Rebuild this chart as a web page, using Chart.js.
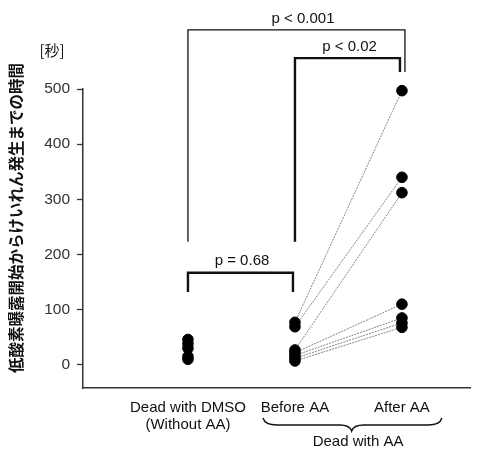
<!DOCTYPE html>
<html>
<head>
<meta charset="utf-8">
<script src="https://cdn.jsdelivr.net/npm/chart.js@4/dist/chart.umd.min.js"></script>
<style>
  html, body { margin: 0; padding: 0; background: #fff; }
  canvas { display: block; }
</style>
</head>
<body>
<canvas id="chartCanvas" width="501" height="455"></canvas>
<script>
/* ─── Data ─── */
const groupLabels = [['Dead with DMSO', '(Without AA)'], ['Before AA'], ['After AA']];
const dmsoValues  = [46, 38, 30, 15, 10];
const beforeAA    = [77, 69, 27, 22, 17, 12, 7];
const afterAA     = [497, 340, 312, 110, 85, 76, 68];
const yTicks      = [0, 100, 200, 300, 400, 500];

const yTitle   = '低酸素曝露開始からけいれん発生までの時間';
const yUnit    = '[秒]';
const braceLabel = 'Dead with AA';

/* significance brackets: group indices, heights in seconds */
const bracketFrom  = [0, 1, 0];
const bracketTo    = [2, 2, 1];
const bracketTop   = [607, 556, 167];
const bracketLeftEnd  = [223, 223, 132];
const bracketRightEnd = [531, 531, 132];
const bracketText  = ['p < 0.001', 'p < 0.02', 'p = 0.68'];
const bracketTextX = [1.075, 1.51, 0.505];
const bracketWidth = [1.3, 2.4, 2.4];

const INK = '#111';
const LATIN = "'Liberation Sans', Arial, sans-serif";

/* ─── Datasets ─── */
const pointData = [
  ...dmsoValues.map(v => ({ x: 0, y: v })),
  ...beforeAA.map(v => ({ x: 1, y: v })),
  ...afterAA.map(v => ({ x: 2, y: v }))
];

const pairLines = beforeAA.map((b, i) => ({
  type: 'line',
  data: [{ x: 1, y: b }, { x: 2, y: afterAA[i] }],
  borderColor: '#666',
  borderWidth: 0.8,
  borderDash: [2, 1],
  pointRadius: 0,
  clip: false,
  order: 1
}));

/* ─── Overlay: brackets, brace, titles ─── */
const overlay = {
  id: 'overlay',
  afterDraw(chart) {
    const { ctx, scales: { x, y } } = chart;
    ctx.save();
    ctx.strokeStyle = INK;
    ctx.fillStyle = INK;

    // brackets
    bracketText.forEach((txt, i) => {
      const x1 = x.getPixelForValue(bracketFrom[i]);
      const x2 = x.getPixelForValue(bracketTo[i]) + (i === 0 ? 3 : -2);
      const yt = y.getPixelForValue(bracketTop[i]);
      ctx.lineWidth = bracketWidth[i];
      ctx.beginPath();
      ctx.moveTo(x1, y.getPixelForValue(bracketLeftEnd[i]));
      ctx.lineTo(x1, yt);
      ctx.lineTo(x2, yt);
      ctx.lineTo(x2, y.getPixelForValue(bracketRightEnd[i]));
      ctx.stroke();
      ctx.font = `15px ${LATIN}`;
      ctx.textAlign = 'center';
      ctx.textBaseline = 'bottom';
      ctx.fillText(txt, x.getPixelForValue(bracketTextX[i]), yt - 4);
    });

    // curly brace under the AA groups
    const bx1 = x.getPixelForValue(1) - 32;
    const bx2 = x.getPixelForValue(2) + 40;
    const bm  = x.getPixelForValue(1.53);
    const by0 = 418, by1 = 425, by2 = 431;
    ctx.lineWidth = 1.4;
    ctx.beginPath();
    ctx.moveTo(bx1, by0);
    ctx.quadraticCurveTo(bx1 + 2, by1, bx1 + 14, by1);
    ctx.lineTo(bm - 12, by1);
    ctx.quadraticCurveTo(bm - 2, by1, bm, by2);
    ctx.quadraticCurveTo(bm + 2, by1, bm + 12, by1);
    ctx.lineTo(bx2 - 14, by1);
    ctx.quadraticCurveTo(bx2 - 2, by1, bx2, by0);
    ctx.stroke();

    ctx.font = `15px ${LATIN}`;
    ctx.textAlign = 'center';
    ctx.textBaseline = 'middle';
    ctx.fillText(braceLabel, x.getPixelForValue(1.59), 442);

    // unit and vertical axis title
    ctx.font = "15px 'Noto Sans CJK JP', sans-serif";
    ctx.fillText(yUnit, 52, 50);

    ctx.translate(16, 218);
    ctx.rotate(-Math.PI / 2);
    ctx.font = "bold 15.5px 'Noto Sans CJK JP', sans-serif";
    ctx.fillText(yTitle, 0, 0);
    ctx.restore();
  }
};

const chart = new Chart(document.getElementById('chartCanvas'), {
  type: 'scatter',
  data: {
    datasets: [
      {
        data: pointData,
        backgroundColor: '#000',
        borderColor: '#000',
        pointRadius: 5.3,
        pointHoverRadius: 5.3,
        clip: false,
        order: 0
      },
      ...pairLines
    ]
  },
  options: {
    responsive: false,
    animation: false,
    events: [],
    layout: { padding: { left: 0, top: 89, right: 31, bottom: 0 } },
    plugins: { legend: { display: false }, tooltip: { enabled: false } },
    scales: {
      x: {
        type: 'linear',
        min: -0.981,
        max: 2.636,
        afterBuildTicks: s => { s.ticks = [0, 1, 2].map(v => ({ value: v })); },
        afterFit: s => { s.height = 67; },
        ticks: {
          autoSkip: false,
          maxRotation: 0,
          padding: 11,
          color: INK,
          font: { size: 15, family: LATIN, lineHeight: 1.15 },
          callback: v => groupLabels[v]
        },
        grid: { drawOnChartArea: false, drawTicks: false },
        border: { color: '#333', width: 1.5 }
      },
      y: {
        min: -42,
        max: 500,
        afterBuildTicks: s => { s.ticks = yTicks.map(v => ({ value: v })); },
        afterFit: s => { s.width = 83; },
        ticks: {
          padding: 7,
          color: '#333',
          font: { size: 15.5, family: LATIN }
        },
        grid: { drawOnChartArea: false, tickLength: 6, color: '#333', tickWidth: 1.3 },
        border: { color: '#333', width: 1.5 }
      }
    }
  },
  plugins: [overlay]
});
</script>
</body>
</html>
